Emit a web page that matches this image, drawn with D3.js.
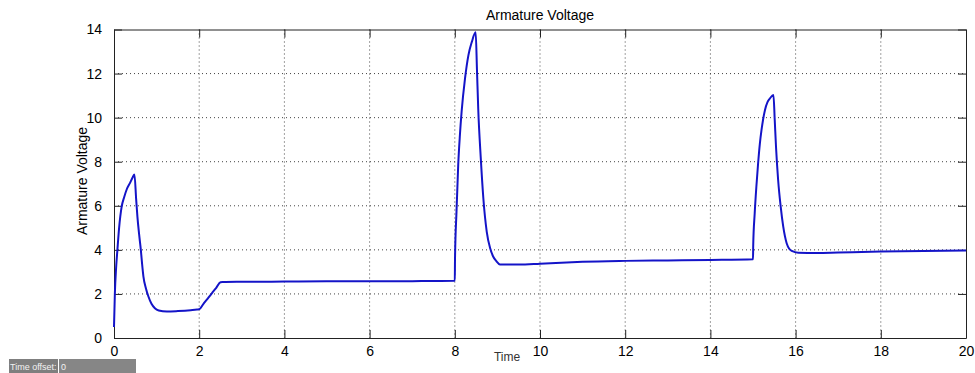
<!DOCTYPE html>
<html>
<head>
<meta charset="utf-8">
<script src="https://cdn.jsdelivr.net/npm/d3@7"></script>
<style>
  html, body { margin: 0; padding: 0; background: #ffffff; }
  svg { display: block; font-family: "Liberation Sans", Arial, Helvetica, sans-serif; }
</style>
</head>
<body>
<svg id="chart" width="975" height="373"></svg>
<script>
// Armature voltage trace: sample times and measured voltages
const timeValues = [
  0, 0.02, 0.05, 0.08, 0.12, 0.18, 0.24, 0.3, 0.38, 0.44, 0.48,
  0.52, 0.55, 0.59, 0.63, 0.66, 0.69, 0.75, 0.81, 0.88, 0.96, 1.05, 1.24, 1.5, 1.8, 1.95, 2.0,
  2.1, 2.2, 2.3, 2.4, 2.5, 2.55, 3.0, 4.0, 5.0, 6.0, 7.0, 8.0,
  8.005, 8.04, 8.08, 8.12, 8.16, 8.24, 8.32, 8.4, 8.49,
  8.52, 8.55, 8.61, 8.67, 8.75, 8.83, 8.9, 8.97, 9.06,
  9.5, 10.0, 10.5, 11.0, 12.0, 13.0, 14.0, 15.0,
  15.005, 15.04, 15.08, 15.12, 15.16, 15.2, 15.28, 15.34, 15.4, 15.48,
  15.51, 15.54, 15.59, 15.65, 15.71, 15.79, 15.85, 15.91, 16.06,
  16.5, 17.0, 18.0, 19.0, 20.0
];
const voltageValues = [
  0.5, 2.0, 3.2, 4.0, 5.0, 5.96, 6.4, 6.75, 7.05, 7.3, 7.42,
  6.3, 5.5, 4.7, 4.0, 3.35, 2.8, 2.25, 1.87, 1.55, 1.35, 1.25, 1.2, 1.22, 1.26, 1.29, 1.3,
  1.55, 1.79, 2.04, 2.28, 2.53, 2.54, 2.55, 2.56, 2.57, 2.57, 2.58, 2.6,
  3.6, 5.73, 7.85, 9.21, 10.27, 11.78, 12.84, 13.44, 13.87,
  12.2, 10.4, 8.15, 6.34, 4.82, 4.07, 3.7, 3.5, 3.34,
  3.33, 3.37, 3.42, 3.46, 3.5, 3.52, 3.54, 3.57,
  4.2, 5.66, 6.9, 7.93, 8.8, 9.44, 10.34, 10.7, 10.88, 11.03,
  9.9, 8.68, 7.17, 5.96, 5.05, 4.3, 4.05, 3.95, 3.87,
  3.86, 3.88, 3.92, 3.95, 3.97
];
const xTicks = [0, 2, 4, 6, 8, 10, 12, 14, 16, 18, 20];
const yTicks = [0, 2, 4, 6, 8, 10, 12, 14];

const svg = d3.select("#chart");
const plot = { left: 114, right: 966, top: 29.5, bottom: 338 };

const x = d3.scaleLinear().domain([0, 20]).range([plot.left, plot.right]);
const y = d3.scaleLinear().domain([0, 14]).range([plot.bottom, plot.top]);

const g = svg.append("g");

// dotted grid
g.selectAll("line.gx").data(xTicks.slice(1, -1)).join("line")
  .attr("x1", d => x(d)).attr("x2", d => x(d))
  .attr("y1", plot.top).attr("y2", plot.bottom)
  .attr("stroke", "#444").attr("stroke-width", 1)
  .attr("stroke-dasharray", "1,3");
g.selectAll("line.gy").data(yTicks.slice(1, -1)).join("line")
  .attr("x1", plot.left).attr("x2", plot.right)
  .attr("y1", d => y(d)).attr("y2", d => y(d))
  .attr("stroke", "#444").attr("stroke-width", 1)
  .attr("stroke-dasharray", "1,3");

// axes with inward ticks on all four sides
const tickLen = 8;
const bottomAxis = d3.axisBottom(x).tickValues(xTicks).tickSizeInner(-tickLen).tickSizeOuter(0).tickPadding(14);
const topAxis = d3.axisTop(x).tickValues(xTicks).tickSizeInner(-tickLen).tickSizeOuter(0).tickFormat("");
const leftAxis = d3.axisLeft(y).tickValues(yTicks).tickSizeInner(-tickLen).tickSizeOuter(0).tickPadding(12);
const rightAxis = d3.axisRight(y).tickValues(yTicks).tickSizeInner(-tickLen).tickSizeOuter(0).tickFormat("");

function styleAxis(sel) {
  sel.select(".domain").attr("stroke", "#222").attr("stroke-width", 1);
  sel.selectAll(".tick line").attr("stroke", "#222").attr("stroke-width", 1);
  sel.selectAll(".tick text").attr("fill", "#000").style("font-size", "14px")
    .style("font-family", "'Liberation Sans', Arial, sans-serif");
}

g.append("g").attr("transform", `translate(0,${plot.bottom})`).call(bottomAxis).call(styleAxis)
  .selectAll(".tick text").attr("dy", "0.3em");
g.append("g").attr("transform", `translate(0,${plot.top})`).call(topAxis).call(styleAxis);
g.append("g").attr("transform", `translate(${plot.left},0)`).call(leftAxis).call(styleAxis);
g.append("g").attr("transform", `translate(${plot.right},0)`).call(rightAxis).call(styleAxis);

// voltage trace
const trace = timeValues.map((t, i) => [t, voltageValues[i]]);
const line = d3.line().x(d => x(d[0])).y(d => y(d[1])).curve(d3.curveMonotoneX);
g.append("path").datum(trace)
  .attr("d", line)
  .attr("fill", "none")
  .attr("stroke", "#1414c8")
  .attr("stroke-width", 2)
  .attr("stroke-linejoin", "round");

// titles
svg.append("text").attr("x", 540).attr("y", 20).attr("text-anchor", "middle")
  .style("font-size", "14px").attr("fill", "#000").text("Armature Voltage");
svg.append("text").attr("transform", "translate(87,181) rotate(-90)").attr("text-anchor", "middle")
  .style("font-size", "14px").attr("fill", "#000").text("Armature Voltage");
svg.append("text").attr("x", 507).attr("y", 361).attr("text-anchor", "middle")
  .style("font-size", "12px").attr("fill", "#333").text("Time");

// time offset field
const offset = svg.append("g");
offset.append("rect").attr("x", 9).attr("y", 359).attr("width", 49).attr("height", 14).attr("fill", "#7f7f7f");
offset.append("rect").attr("x", 59).attr("y", 359).attr("width", 77).attr("height", 14).attr("fill", "#868686");
offset.append("text").attr("x", 10).attr("y", 369.5).style("font-size", "9px").attr("fill", "#f2f2f2").text("Time offset:");
offset.append("text").attr("x", 61).attr("y", 369.5).style("font-size", "9px").attr("fill", "#f2f2f2").text("0");
</script>
</body>
</html>
